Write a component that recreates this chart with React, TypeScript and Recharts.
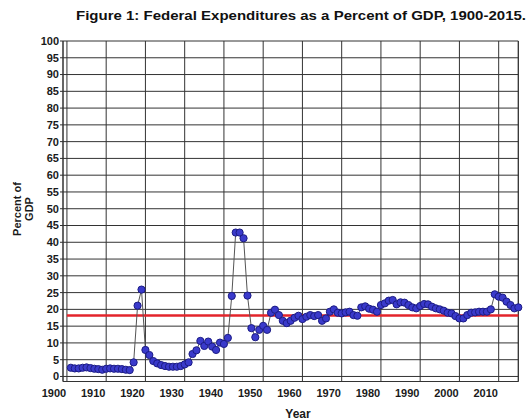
import React from 'react';
import { LineChart, Line, XAxis, YAxis, CartesianGrid, ReferenceLine } from 'recharts';

const years = [
  1901, 1902, 1903, 1904, 1905, 1906, 1907, 1908, 1909, 1910,
  1911, 1912, 1913, 1914, 1915, 1916, 1917, 1918, 1919, 1920,
  1921, 1922, 1923, 1924, 1925, 1926, 1927, 1928, 1929, 1930,
  1931, 1932, 1933, 1934, 1935, 1936, 1937, 1938, 1939, 1940,
  1941, 1942, 1943, 1944, 1945, 1946, 1947, 1948, 1949, 1950,
  1951, 1952, 1953, 1954, 1955, 1956, 1957, 1958, 1959, 1960,
  1961, 1962, 1963, 1964, 1965, 1966, 1967, 1968, 1969, 1970,
  1971, 1972, 1973, 1974, 1975, 1976, 1977, 1978, 1979, 1980,
  1981, 1982, 1983, 1984, 1985, 1986, 1987, 1988, 1989, 1990,
  1991, 1992, 1993, 1994, 1995, 1996, 1997, 1998, 1999, 2000,
  2001, 2002, 2003, 2004, 2005, 2006, 2007, 2008, 2009, 2010,
  2011, 2012, 2013, 2014, 2015,
];

const pct = [
  2.6, 2.4, 2.4, 2.6, 2.7, 2.5, 2.3, 2.2, 2.0, 2.3,
  2.4, 2.3, 2.3, 2.2, 2.0, 1.9, 4.2, 21.1, 25.9, 7.9,
  6.4, 4.6, 3.9, 3.4, 3.1, 2.9, 2.9, 2.9, 3.1, 3.6,
  4.2, 6.7, 7.8, 10.6, 9.1, 10.4, 8.9, 7.9, 10.1, 9.7,
  11.5, 24.0, 42.9, 42.9, 41.2, 24.1, 14.4, 11.7, 13.9, 15.1,
  13.9, 19.0, 19.9, 18.3, 16.6, 15.9, 16.6, 17.5, 18.1, 17.1,
  17.8, 18.3, 18.0, 18.3, 16.6, 17.3, 19.3, 20.0, 19.0, 18.8,
  19.1, 19.3, 18.3, 18.1, 20.6, 20.9, 20.2, 19.9, 19.3, 21.3,
  21.8, 22.6, 22.8, 21.5, 22.1, 22.0, 21.3, 20.6, 20.3, 21.0,
  21.6, 21.5, 20.8, 20.3, 20.0, 19.6, 19.0, 18.8, 18.0, 17.3,
  17.3, 18.3, 19.0, 19.1, 19.3, 19.3, 19.3, 20.0, 24.5, 23.8,
  23.5, 22.3, 21.3, 20.3, 20.6,
];

const xTicks = [1900, 1910, 1920, 1930, 1940, 1950, 1960, 1970, 1980, 1990, 2000, 2010];
const yTicks = [0, 5, 10, 15, 20, 25, 30, 35, 40, 45, 50, 55, 60, 65, 70, 75, 80, 85, 90, 95, 100];
const averageLevel = 18.2;

const data = years.map((year, i) => ({ year, pct: pct[i] }));

const FONT = "'Liberation Sans', Arial, Helvetica, sans-serif";
const GRID = '#333333';
const LABEL_SHIFT = -13;

const XTick = (props: any) => {
  const { x, y, payload } = props;
  return (
    <text
      x={x + LABEL_SHIFT}
      y={y}
      dy={15.5}
      textAnchor="middle"
      fontSize={11}
      fontWeight="bold"
      fontFamily={FONT}
      fill="#1a1a1a"
    >
      {payload.value}
    </text>
  );
};

export default function App() {
  return (
    <div style={{ position: 'absolute', left: 0, top: 0, width: 529, height: 420, background: '#fff' }}>
      <LineChart
        width={529}
        height={420}
        data={data}
        margin={{ top: 41, right: 10.7, bottom: 18.5, left: 0 }}
      >
        <CartesianGrid stroke={GRID} strokeWidth={1} />
        <XAxis
          dataKey="year"
          type="number"
          domain={[1899, 2015]}
          ticks={xTicks}
          interval={0}
          height={20}
          tickSize={0}
          tickMargin={0}
          axisLine={{ stroke: GRID, strokeWidth: 1 }}
          tickLine={false}
          tick={<XTick />}
        />
        <YAxis
          type="number"
          domain={[-1.5, 100]}
          ticks={yTicks}
          interval={0}
          width={63}
          tickSize={3}
          tickMargin={1}
          axisLine={{ stroke: GRID, strokeWidth: 1 }}
          tickLine={{ stroke: GRID }}
          tick={{ fontSize: 11, fontWeight: 'bold', fontFamily: FONT, fill: '#1a1a1a' }}
        />
        <ReferenceLine x={2015} stroke={GRID} strokeWidth={1} />
        <ReferenceLine
          segment={[{ x: 1900, y: averageLevel }, { x: 2015, y: averageLevel }]}
          stroke="#e3242b"
          strokeWidth={2.5}
        />
        <Line
          dataKey="pct"
          type="linear"
          stroke="#555555"
          strokeWidth={1}
          dot={{ r: 3.6, fill: '#3a3acb', stroke: '#1c1c85', strokeWidth: 1 }}
          isAnimationActive={false}
        />
      </LineChart>
      <svg
        width={529}
        height={420}
        style={{ position: 'absolute', left: 0, top: 0, pointerEvents: 'none' }}
      >
        <text
          x={301}
          y={19.5}
          textAnchor="middle"
          fontSize={12.5}
          fontWeight="bold"
          fontFamily={FONT}
          fill="#111"
          textLength={450}
          lengthAdjust="spacingAndGlyphs"
        >
          Figure 1: Federal Expenditures as a Percent of GDP, 1900-2015.
        </text>
        <text transform="translate(0,209) rotate(-90)" textAnchor="middle" fontSize={11} fontWeight="bold" fontFamily={FONT} fill="#1a1a1a">
          <tspan x={0} y={21}>Percent of</tspan>
          <tspan x={0} y={33}>GDP</tspan>
        </text>
        <text x={298} y={417.5} textAnchor="middle" fontSize={12} fontWeight="bold" fontFamily={FONT} fill="#1a1a1a">
          Year
        </text>
      </svg>
    </div>
  );
}
